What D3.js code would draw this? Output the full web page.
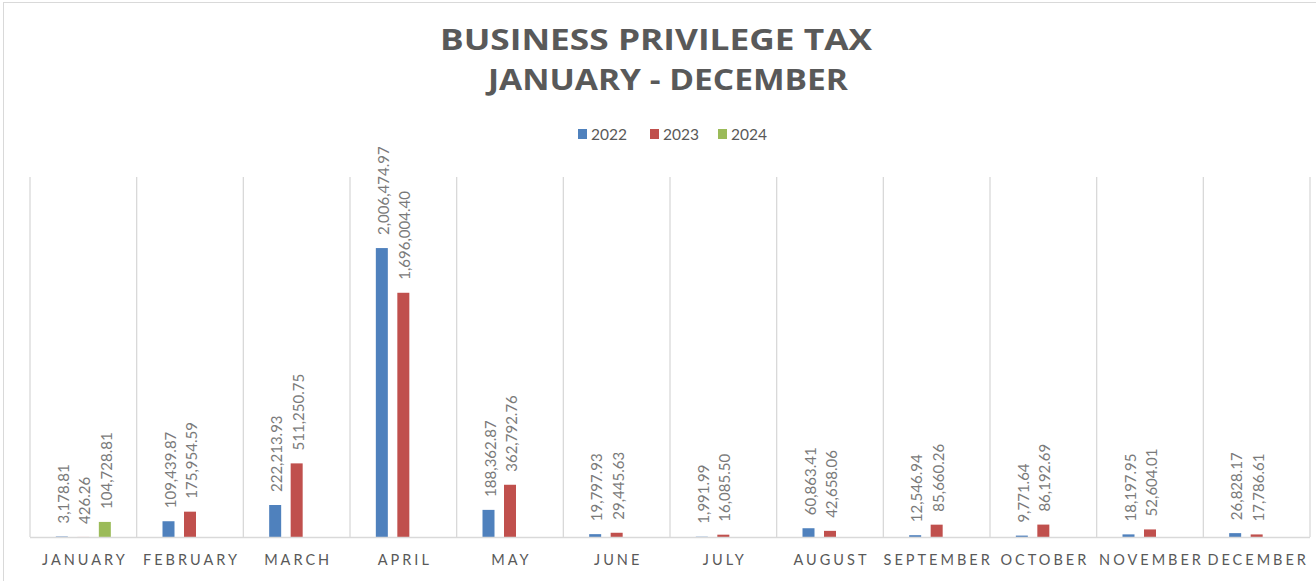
<!DOCTYPE html>
<html><head><meta charset="utf-8">
<script src="https://cdn.jsdelivr.net/npm/d3@7"></script>
<style>html,body{margin:0;padding:0;background:#fff;}</style>
</head><body>
<svg id="c" width="1316" height="581"></svg>
<script>
const months = ["JANUARY","FEBRUARY","MARCH","APRIL","MAY","JUNE","JULY","AUGUST","SEPTEMBER","OCTOBER","NOVEMBER","DECEMBER"];
const seriesNames = ["2022","2023","2024"];
const values2022 = [3178.81,109439.87,222213.93,2006474.97,188362.87,19797.93,1991.99,60863.41,12546.94,9771.64,18197.95,26828.17];
const values2023 = [426.26,175954.59,511250.75,1696004.40,362792.76,29445.63,16085.50,42658.06,85660.26,86192.69,52604.01,17786.61];
const values2024 = [104728.81,null,null,null,null,null,null,null,null,null,null,null];
const colors = ["#4f81bd","#c0504d","#9bbb59"];
const yMax = 2500000;

const svg = d3.select("#c");
const font = "Lato, 'Open Sans', sans-serif";
svg.append("rect").attr("x",3.5).attr("y",2.5).attr("width",1330).attr("height",600)
  .attr("fill","#fff").attr("stroke","#d9d9d9");

const L = 30, R = 1310, T = 177, B = 537;
const x = d3.scaleBand().domain(months).range([L,R]).padding(0);
const y = d3.scaleLinear().domain([0,yMax]).range([B,T]);
const offsets = [-21.5,0,21.5];
const bw = 12;

// gridlines at category boundaries
const bounds = months.map(m=>x(m)).concat([R]);
svg.append("g").selectAll("line").data(bounds).join("line")
  .attr("x1",d=>d).attr("x2",d=>d).attr("y1",T).attr("y2",B)
  .attr("stroke","#d9d9d9").attr("stroke-width",1.3);

// title
const title = svg.append("g").attr("fill","#595959").attr("font-family","'Open Sans', sans-serif").attr("font-weight","bold");
title.append("text").attr("x",656).attr("y",50).attr("text-anchor","middle").attr("font-size",29)
  .attr("textLength",432).attr("lengthAdjust","spacingAndGlyphs").text("BUSINESS PRIVILEGE TAX");
title.append("text").attr("x",668).attr("y",90).attr("text-anchor","middle").attr("font-size",29)
  .attr("textLength",360).attr("lengthAdjust","spacingAndGlyphs").text("JANUARY - DECEMBER");

// legend
const legX = [578,650,718];
const leg = svg.append("g");
seriesNames.forEach((s,i)=>{
  leg.append("rect").attr("x",legX[i]).attr("y",129).attr("width",9).attr("height",10).attr("fill",colors[i]);
  leg.append("text").attr("x",legX[i]+13).attr("y",140).attr("font-family",font).attr("font-size",15.5)
    .attr("fill","#595959").text(s);
});

const all = [values2022,values2023,values2024];
const fmt = d3.format(",.2f");
all.forEach((vals,si)=>{
  const g = svg.append("g");
  months.forEach((m,i)=>{
    const v = vals[i];
    if (v==null) return;
    const cx = x(m)+x.bandwidth()/2+offsets[si];
    g.append("rect").attr("x",cx-bw/2).attr("y",y(v)).attr("width",bw).attr("height",B-y(v)).attr("fill",colors[si]);
    const ly = y(v)-13;
    g.append("text").attr("transform",`translate(${cx+1},${ly}) rotate(-90)`)
      .attr("dominant-baseline","central").attr("font-family",font).attr("font-size",15)
      .attr("fill","#7a7a7a").text(fmt(v));
  });
});

// baseline
svg.append("line").attr("x1",L).attr("x2",R).attr("y1",B+0.5).attr("y2",B+0.5).attr("stroke","#d9d9d9").attr("stroke-width",1.5);

// category labels
svg.append("g").selectAll("text").data(months).join("text")
  .attr("x",d=>x(d)+x.bandwidth()/2+1.5).attr("y",565).attr("text-anchor","middle")
  .attr("font-family",font).attr("font-size",14.5).attr("letter-spacing",3).attr("fill","#595959")
  .text(d=>d);
</script>
</body></html>
